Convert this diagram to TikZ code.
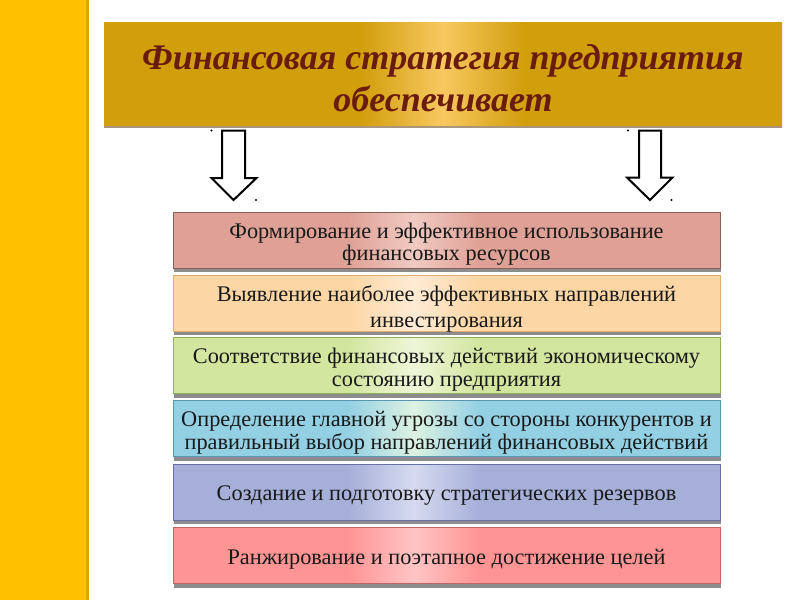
\documentclass[tikz,border=0pt]{standalone}
\usepackage{fontspec}
\setmainfont{Liberation Serif}
\usetikzlibrary{shadows}
\definecolor{stripe}{HTML}{FFC000}
\definecolor{stripeedge}{HTML}{D9A800}
\definecolor{gold}{HTML}{D19E0C}
\definecolor{goldl}{HTML}{F8C860}
\definecolor{titletext}{HTML}{6A1C0C}
\definecolor{cA}{HTML}{DFA196}\definecolor{cAl}{HTML}{F0CAC2}\definecolor{bA}{HTML}{8A5F58}
\definecolor{cB}{HTML}{FCD6A4}\definecolor{cBl}{HTML}{FEEBD4}\definecolor{bB}{HTML}{E0AE70}
\definecolor{cC}{HTML}{D2E6A0}\definecolor{cCl}{HTML}{EEF6D8}\definecolor{bC}{HTML}{8FAE5C}
\definecolor{cD}{HTML}{94D0E4}\definecolor{cDl}{HTML}{DDF2E2}\definecolor{bD}{HTML}{5A96B0}
\definecolor{cE}{HTML}{A6AFD8}\definecolor{cEl}{HTML}{D6DAF0}\definecolor{bE}{HTML}{6670A4}
\definecolor{cF}{HTML}{FF9494}\definecolor{cFl}{HTML}{FFC4C4}\definecolor{bF}{HTML}{C06464}
\newcommand{\mkshade}[3]{\pgfdeclarehorizontalshading{#1}{100bp}{color(0bp)=(#2); color(25bp)=(#2); color(41bp)=(#2); color(47bp)=(#3); color(53bp)=(#2); color(75bp)=(#2); color(100bp)=(#2)}}
\mkshade{shA}{cA}{cAl}
\mkshade{shB}{cB}{cBl}
\mkshade{shC}{cC}{cCl}
\mkshade{shD}{cD}{cDl}
\mkshade{shE}{cE}{cEl}
\mkshade{shF}{cF}{cFl}
\pgfdeclarehorizontalshading{shG}{100bp}{color(0bp)=(gold); color(25bp)=(gold); color(44bp)=(gold); color(50bp)=(goldl); color(56bp)=(gold); color(75bp)=(gold); color(100bp)=(gold)}
\begin{document}
\begin{tikzpicture}[x=1pt,y=-1pt,
  item/.style={draw=#1, line width=0.8pt, minimum width=547, minimum height=56,
    inner sep=0,
    drop shadow={shadow xshift=1pt,shadow yshift=-4pt,fill=black!45,opacity=1}},
  itemtext/.style={align=center, inner sep=0, text=black!90,
    font=\fontsize{22.3}{23}\selectfont},
  banner/.style={minimum width=678, minimum height=103, inner sep=0,
    shading=shG,
    drop shadow={shadow xshift=0pt,shadow yshift=-3pt,fill=black!40!brown!60,opacity=1}},
  titletxt/.style={align=center, inner sep=0, text=titletext,
    font=\fontsize{36}{42}\selectfont\bfseries\itshape},
  arrowshape/.style={draw=black, fill=white, line width=2pt, line join=miter},
  dot/.style={fill=black}]
\useasboundingbox (0,0) rectangle (800,600);
\fill[white] (0,0) rectangle (800,600);
\fill[stripeedge] (0,0) rectangle (89,600);
\fill[stripe] (0,0) rectangle (86,600);
\node[banner] (banner) at (443,73.5) {};
\node[titletxt] (title) at (443,78) {Финансовая стратегия предприятия\\обеспечивает};
\draw[arrowshape] (222,130.5) -- (245,130.5) -- (245,178) -- (256.5,178) -- (233.5,200) -- (211.5,178) -- (222,178) -- cycle;
\draw[arrowshape] (639,130.5) -- (661,130.5) -- (661,177.5) -- (672.5,177.5) -- (650,200) -- (627,177.5) -- (639,177.5) -- cycle;
\fill[dot] (211.5,130.5) circle (1.1);
\fill[dot] (256,200) circle (1.1);
\fill[dot] (628,130.5) circle (1.1);
\fill[dot] (671.5,200) circle (1.1);
\node[item=bA, shading=shA] (b1) at (446.5,240) {};
\node[item=bB, shading=shB] (b2) at (446.5,303) {};
\node[item=bC, shading=shC] (b3) at (446.5,365.5) {};
\node[item=bD, shading=shD] (b4) at (446.5,428.5) {};
\node[item=bE, shading=shE] (b5) at (446.5,492) {};
\node[item=bF, shading=shF] (b6) at (446.5,555.5) {};
\node[itemtext] (t1) at (446.5,244) {Формирование и эффективное использование\\[-1pt]финансовых ресурсов};
\node[itemtext] (t2) at (446.5,309) {Выявление наиболее эффективных направлений\\[3pt]инвестирования};
\node[itemtext] (t3) at (446.5,370) {Соответствие финансовых действий экономическому\\состоянию предприятия};
\node[itemtext] (t4) at (446.5,433) {Определение главной угрозы со стороны конкурентов и\\правильный выбор направлений финансовых действий};
\node[itemtext] (t5) at (446.5,496) {Создание и подготовку стратегических резервов};
\node[itemtext] (t6) at (446.5,559.5) {Ранжирование и поэтапное достижение целей};
\end{tikzpicture}
\end{document}
